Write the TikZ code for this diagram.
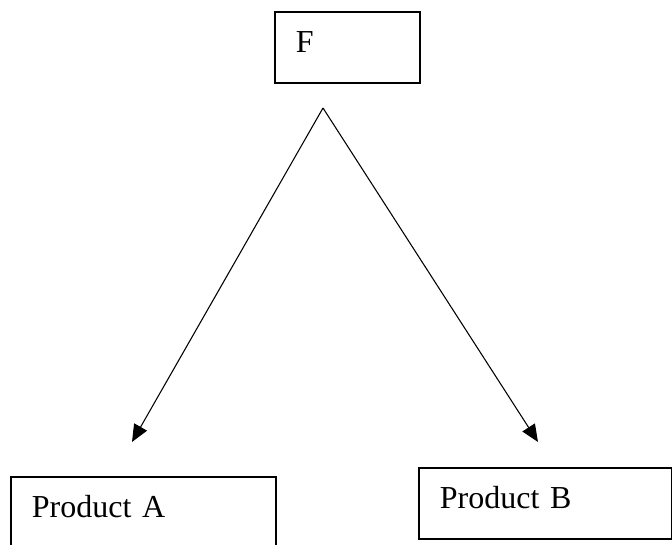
\documentclass[tikz,border=0pt]{standalone}
\usepackage{fontspec}
\setmainfont{Liberation Serif}
\usetikzlibrary{positioning, arrows.meta}

\begin{document}
\begin{tikzpicture}[
    x=0.75pt, y=-0.75pt,
    >={Triangle[length=13pt, width=11pt]},
    itembox/.style={rectangle, draw=black, line width=1.4pt, anchor=north west, inner xsep=15.75pt, inner ysep=0pt, text height=30.75pt, text depth=22.5pt, align=left, font=\fontsize{24pt}{28pt}\selectfont},
    branch/.style={->, line width=0.8pt},
]
\useasboundingbox (0,0) rectangle (672,544);

% Top box
\node[itembox, text width=77.25pt] (f) at (274,11) {F};

% Product boxes
\node[itembox, text width=167.25pt] (prodA) at (10,476) {Product A};
\node[itembox, text width=158.25pt] (prodB) at (418,467) {Product B};

% Split point and arrow ends
\coordinate (apex) at (323,108);
\coordinate (endA) at (132,442);
\coordinate (endB) at (538,442);

% Arrows
\foreach \e in {endA, endB} {
    \draw[branch] (apex) -- (\e);
}

\end{tikzpicture}
\end{document}
